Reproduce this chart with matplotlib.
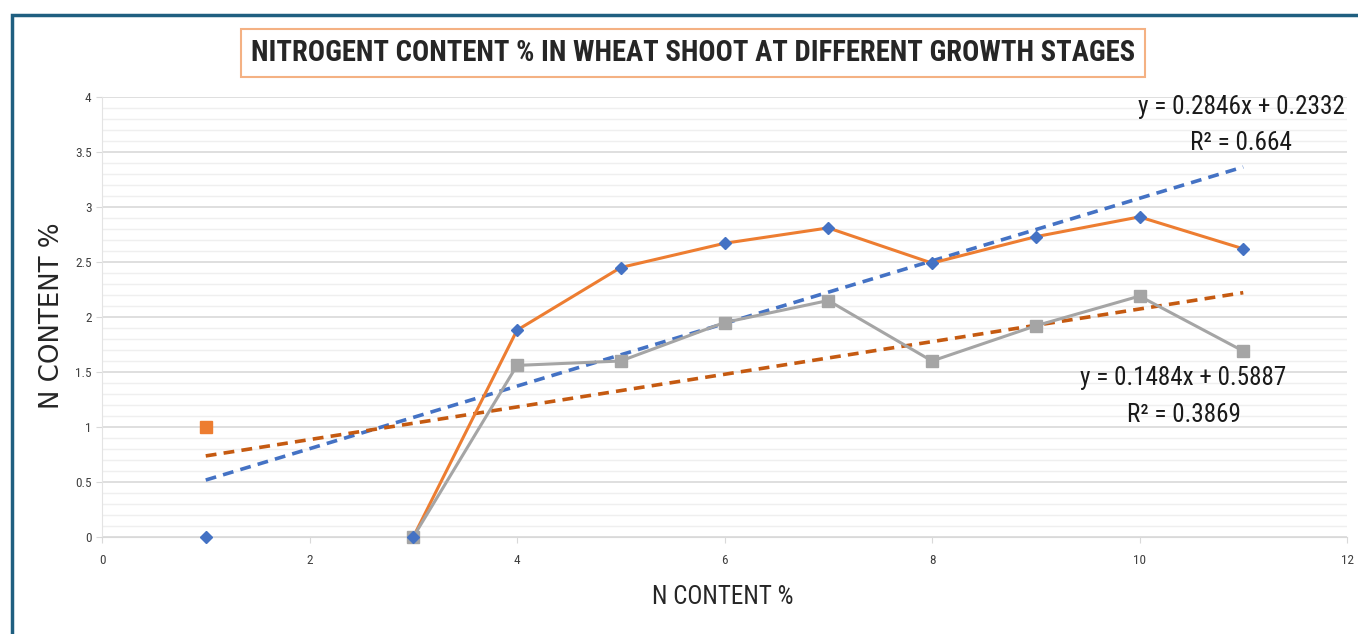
import matplotlib
matplotlib.use("Agg")
import matplotlib.pyplot as plt
import numpy as np
from matplotlib.patches import Rectangle
from matplotlib import font_manager

# series
x_line = [3, 4, 5, 6, 7, 8, 9, 10, 11]
y_orange = [0, 1.88, 2.45, 2.67, 2.81, 2.49, 2.73, 2.91, 2.62]
y_gray = [0, 1.56, 1.60, 1.95, 2.15, 1.60, 1.92, 2.19, 1.69]
x_lone = [1]
y_lone_blue = [0]
y_lone_orange = [1]

# trendlines (from the equation labels)
trend_x = [1, 11]
blue_fit = (0.2846, 0.2332)
orange_fit = (0.1484, 0.5887)

title = "NITROGENT CONTENT % IN WHEAT SHOOT AT DIFFERENT GROWTH STAGES"
xlabel = "N CONTENT %"
ylabel = "N CONTENT %"
eq_blue = ["y = 0.2846x + 0.2332", "R² = 0.664"]
eq_orange = ["y = 0.1484x + 0.5887", "R² = 0.3869"]
x_ticks = [0, 2, 4, 6, 8, 10, 12]
y_ticks = [0, 0.5, 1, 1.5, 2, 2.5, 3, 3.5, 4]
y_tick_labels = ["0", "0.5", "1", "1.5", "2", "2.5", "3", "3.5", "4"]

names = {f.name for f in font_manager.fontManager.ttflist}
narrow = "DejaVu Sans"
for cand in ["Liberation Sans Narrow", "Roboto Condensed", "Open Sans Condensed",
             "Noto Sans Condensed", "Lato", "Liberation Sans"]:
    if cand in names:
        narrow = cand
        break

ORANGE = "#ED7D31"
BLUE = "#4472C4"
GRAY = "#A5A5A5"
DARK_ORANGE = "#C55A11"
W, H = 1358, 634

fig = plt.figure(figsize=(W / 100, H / 100), dpi=100)
ax = fig.add_axes([102 / W, 1 - 537 / H, (1347 - 102) / W, (537 - 97) / H])

# outer frame
fig.patches.append(Rectangle((12 / W, -0.2), 2.0, 1.2 - 15 / H,
                             transform=fig.transFigure, fill=False,
                             edgecolor="#1F5F80", linewidth=2.5, zorder=0))

ax.plot(x_line, y_orange, color=ORANGE, lw=2.2, zorder=3)
ax.plot(x_line, y_orange, ls="none", marker="D", ms=6.5, color=BLUE, zorder=4, clip_on=False)
ax.plot(x_line, y_gray, color=GRAY, lw=2.2, marker="s", ms=8, zorder=3, clip_on=False)
ax.plot(x_lone, y_lone_blue, ls="none", marker="D", ms=6.5, color=BLUE, zorder=4, clip_on=False)
ax.plot(x_lone, y_lone_orange, ls="none", marker="s", ms=8, color=ORANGE, zorder=4)

tx = np.array(trend_x)
ax.plot(tx, blue_fit[0] * tx + blue_fit[1], color=BLUE, lw=2.6, ls=(0, (3, 2)), zorder=2)
ax.plot(tx, orange_fit[0] * tx + orange_fit[1], color=DARK_ORANGE, lw=2.6, ls=(0, (3, 2)), zorder=2)

ax.set_xlim(0, 12)
ax.set_ylim(0, 4)
ax.set_xticks(x_ticks)
ax.set_yticks(y_ticks)
ax.set_yticklabels(y_tick_labels)
ax.set_yticks(np.arange(0, 4.01, 0.1), minor=True)
ax.grid(True, which="major", axis="y", color="#D9D9D9", lw=1.2)
ax.grid(True, which="minor", axis="y", color="#EFEFEF", lw=1.0)
ax.set_axisbelow(True)
for s in ["top", "right"]:
    ax.spines[s].set_visible(False)
ax.spines["left"].set_color("#E3E3E3")
ax.spines["bottom"].set_color("#D9D9D9")
ax.tick_params(axis="both", which="major", labelsize=9.5, labelcolor="#404040",
               color="#D9D9D9", length=4)
ax.tick_params(axis="y", which="minor", length=0)
ax.tick_params(axis="x", pad=8)
for lab in ax.get_xticklabels() + ax.get_yticklabels():
    lab.set_family(narrow)


def put(s, cx, cy, width=None, height=None, rot=0, **kw):
    # place text centred at pixel (cx, cy) and size it to the given pixel span
    t = fig.text(cx / W, 1 - cy / H, s, ha="center", va="center", rotation=rot,
                 fontsize=20, **kw)
    r = fig.canvas.get_renderer()
    bb = t.get_window_extent(r)
    if width:
        t.set_fontsize(20 * width / bb.width)
    elif height:
        t.set_fontsize(20 * height / bb.height)
    return t


put(title, 693, 53, width=885, family=narrow, weight="bold", color="#262626",
    bbox=dict(boxstyle="square,pad=0.35", fc="white", ec="#F4B183", lw=1.5))
put(xlabel, 723, 597, width=142, family=narrow, color="#262626")
put(ylabel, 52, 316, height=186, rot=90, color="#262626")
put(eq_blue[0], 1241, 107, width=208, family=narrow, color="#1A1A1A")
put(eq_blue[1], 1241, 143, width=102, family=narrow, color="#1A1A1A")
put(eq_orange[0], 1183, 378, width=206, family=narrow, color="#1A1A1A")
put(eq_orange[1], 1184, 415, width=114, family=narrow, color="#1A1A1A")

fig.savefig("out.png", dpi=100)
